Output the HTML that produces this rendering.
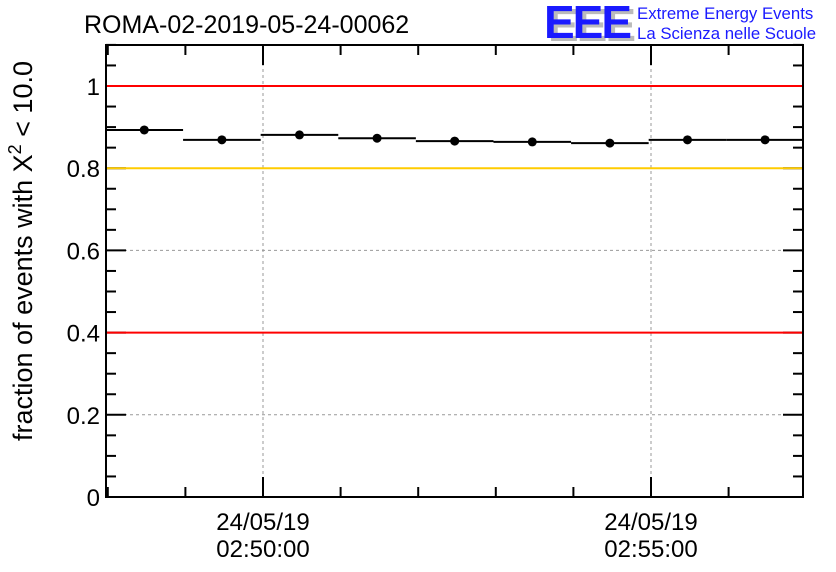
<!DOCTYPE html>
<html><head><meta charset="utf-8"><style>
body{margin:0;background:#fff;}
svg{display:block;font-family:"Liberation Sans",sans-serif;}
</style></head><body>
<svg id="c" width="836" height="572">
<g id="grid"></g>
<g id="axes"></g>
<g id="lines"></g>
<g id="marks"></g>
<rect x="106" y="45" width="697" height="452" fill="none" stroke="#000" stroke-width="2"/>
<text x="84" y="33" font-size="25">ROMA-02-2019-05-24-00062</text>
<g>
<text x="548" y="41" font-size="46" font-weight="bold" fill="#bbb" letter-spacing="-2">EEE</text>
<text x="544" y="38" font-size="46" font-weight="bold" fill="#1a1aff" letter-spacing="-2">EEE</text>
<text x="637" y="19" font-size="16.8" fill="#1a1aff">Extreme Energy Events</text>
<text x="637" y="39" font-size="16.8" fill="#1a1aff">La Scienza nelle Scuole</text>
</g>
<text transform="translate(32,251) rotate(-90)" text-anchor="middle" font-size="27">fraction of events with X<tspan dy="-11" font-size="18">2</tspan><tspan dy="11"> &lt; 10.0</tspan></text>
</svg>
<script>
const values=[0.893,0.869,0.881,0.873,0.866,0.864,0.861,0.869,0.869];
const binStartMin=[-2.03,-1.03,-0.03,0.97,1.97,2.97,3.97,4.97,5.97]; // minutes from 02:50
const yTicks=[0,0.2,0.4,0.6,0.8,1];
const yTickLabels=["0","0.2","0.4","0.6","0.8","1"];
const xTicksMin=[0,5];
const xTickLabels=[["24/05/19","02:50:00"],["24/05/19","02:55:00"]];
const thresholds=[1.0,0.8,0.4];
const thresholdColors=["#ff0000","#ffcc00","#ff0000"];
const NS="http://www.w3.org/2000/svg";
const X0=106,X1=803,Y0=497,Y1=45;
const y=v=>Y0-v*411;
const x=m=>263+m*77.6;
function mk(p,t,a){const e=document.createElementNS(NS,t);for(const k in a)e.setAttribute(k,a[k]);document.getElementById(p).appendChild(e);return e;}
[0.2,0.6].forEach(v=>{const e=mk('grid','line',{x1:X0,x2:X1,y1:y(v),y2:y(v),stroke:'#999','stroke-dasharray':'3,3'});

});
xTicksMin.forEach(m=>{const e=mk('grid','line',{x1:x(m),x2:x(m),y1:Y1,y2:Y0,stroke:'#999','stroke-dasharray':'3,3'});

});
thresholds.forEach((v,i)=>{const e=mk('lines','line',{x1:X0,x2:X1,y1:y(v),y2:y(v),stroke:thresholdColors[i],'stroke-width':2});

});
values.forEach((v,i)=>{const a=Math.max(x(binStartMin[i]),X0-2),b=Math.min(x(binStartMin[i]+1),X1);
const l=mk('marks','line',{x1:a,x2:b,y1:y(v),y2:y(v),stroke:'#000','stroke-width':2});


const c=mk('marks','circle',{cx:x(binStartMin[i]+0.5),cy:y(v),r:4.5,fill:'#000'});

});
for(let v=0;v<=1.1001;v+=0.05){const maj=Math.abs(v*5-Math.round(v*5))<1e-6;const L=maj?20:10;
mk('axes','line',{x1:X0,x2:X0+L,y1:y(v),y2:y(v),stroke:'#000','stroke-width':2});
mk('axes','line',{x1:X1-L,x2:X1,y1:y(v),y2:y(v),stroke:'#000','stroke-width':2});}
yTicks.forEach((v,i)=>{const t=mk('axes','text',{x:100,y:y(v)+9,'text-anchor':'end','font-size':24});t.textContent=yTickLabels[i];

});
for(let m=-2;m<=7;m++){const L=m%5===0?20:10;const px=x(m);if(px<X0||px>X1)continue;
mk('axes','line',{x1:px,x2:px,y1:Y0-L,y2:Y0,stroke:'#000','stroke-width':2});
mk('axes','line',{x1:px,x2:px,y1:Y1,y2:Y1+L,stroke:'#000','stroke-width':2});}
xTicksMin.forEach((m,i)=>{xTickLabels[i].forEach((s,j)=>{const t=mk('axes','text',{x:x(m),y:530+j*27,'text-anchor':'middle','font-size':24});t.textContent=s;

});});
</script>
</body></html>
